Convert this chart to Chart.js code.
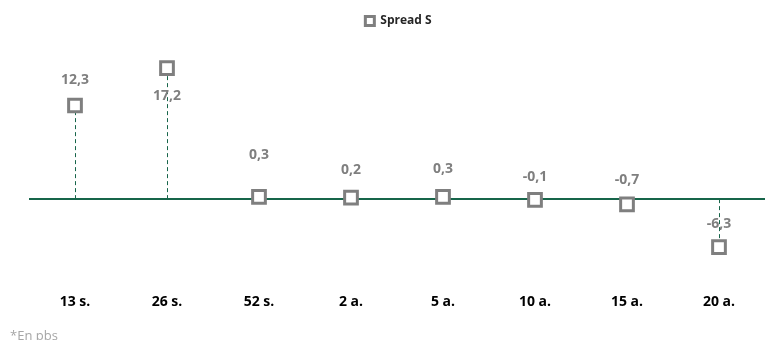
<!DOCTYPE html>
<html>
<head>
<meta charset="utf-8">
<script src="https://cdn.jsdelivr.net/npm/chart.js@4/dist/chart.umd.min.js"></script>
<style>
  html, body { margin: 0; padding: 0; background: #ffffff; }
  #wrap { width: 777px; height: 340px; position: relative; }
</style>
</head>
<body>
<div id="wrap"><canvas id="c" width="777" height="340"></canvas></div>
<script>
// Maturities and spread values (bps)
const categories = ['13 s.', '26 s.', '52 s.', '2 a.', '5 a.', '10 a.', '15 a.', '20 a.'];
const spreadS = [12.3, 17.2, 0.3, 0.2, 0.3, -0.1, -0.7, -6.3];
const seriesName = 'Spread S';
const footnote = '*En pbs';

// Vertical pixel shift of each value label from its marker
const labelShift = [-25, 28, -42, -28, -28, -23, -24, -23];

const GREEN = '#17654a';
const GREY = '#7f7f7f';
const FONT = "'Open Sans', 'Liberation Sans', sans-serif";

const fmt = v => v.toFixed(1).replace('.', ',');

// Dashed drop lines from the zero line to each marker
const dropLines = {
  id: 'dropLines',
  beforeDatasetsDraw(chart) {
    const { ctx, scales: { y } } = chart;
    const meta = chart.getDatasetMeta(0);
    const y0 = y.getPixelForValue(0);
    ctx.save();
    ctx.strokeStyle = GREEN;
    ctx.lineWidth = 1;
    ctx.setLineDash([4, 3]);
    meta.data.forEach(pt => {
      ctx.beginPath();
      ctx.moveTo(Math.round(pt.x) + 0.5, y0);
      ctx.lineTo(Math.round(pt.x) + 0.5, pt.y);
      ctx.stroke();
    });
    ctx.restore();
  }
};

// Value labels and footnote
const valueLabels = {
  id: 'valueLabels',
  afterDatasetsDraw(chart) {
    const { ctx } = chart;
    const meta = chart.getDatasetMeta(0);
    ctx.save();
    ctx.font = 'bold 14px ' + FONT;
    ctx.fillStyle = GREY;
    ctx.textAlign = 'center';
    ctx.textBaseline = 'middle';
    meta.data.forEach((pt, i) => {
      ctx.fillText(fmt(spreadS[i]), pt.x, pt.y + labelShift[i]);
    });
    ctx.restore();
  },
  afterDraw(chart) {
    const { ctx } = chart;
    ctx.save();
    ctx.font = '13px ' + FONT;
    ctx.fillStyle = '#a6a6a6';
    ctx.textAlign = 'left';
    ctx.textBaseline = 'alphabetic';
    ctx.fillText(footnote, 10, 340);
    ctx.restore();
  }
};

new Chart(document.getElementById('c'), {
  type: 'line',
  data: {
    labels: categories,
    datasets: [{
      label: seriesName,
      data: spreadS,
      showLine: false,
      clip: false,
      pointStyle: 'rect',
      pointRadius: 9,
      pointHoverRadius: 9,
      pointBorderWidth: 3,
      borderWidth: 3,
      pointBorderColor: GREY,
      borderColor: GREY,
      pointBackgroundColor: '#ffffff',
      backgroundColor: '#ffffff'
    }]
  },
  options: {
    responsive: false,
    animation: false,
    maintainAspectRatio: false,
    layout: { padding: { left: 29, right: 9, top: 5, bottom: 9 } },
    plugins: {
      tooltip: { enabled: false },
      legend: {
        position: 'top',
        labels: {
          usePointStyle: true,
          boxWidth: 9,
          boxHeight: 9,
          color: '#262626',
          font: { family: FONT, size: 12, weight: 'bold' },
          padding: 10
        }
      }
    },
    scales: {
      x: {
        offset: true,
        grid: { display: false, drawTicks: false },
        border: { display: false },
        ticks: {
          color: '#000000',
          padding: 21,
          maxRotation: 0,
          font: { family: FONT, size: 14, weight: 'bold' }
        }
      },
      y: {
        min: -9.6,
        max: 21.3,
        ticks: { display: false, stepSize: 2 },
        border: { display: false },
        grid: {
          drawTicks: false,
          lineWidth: ctx => (ctx.tick && ctx.tick.value === 0 ? 2 : 0),
          color: ctx => (ctx.tick && ctx.tick.value === 0 ? GREEN : 'rgba(0,0,0,0)')
        }
      }
    }
  },
  plugins: [dropLines, valueLabels]
});
</script>
</body>
</html>
